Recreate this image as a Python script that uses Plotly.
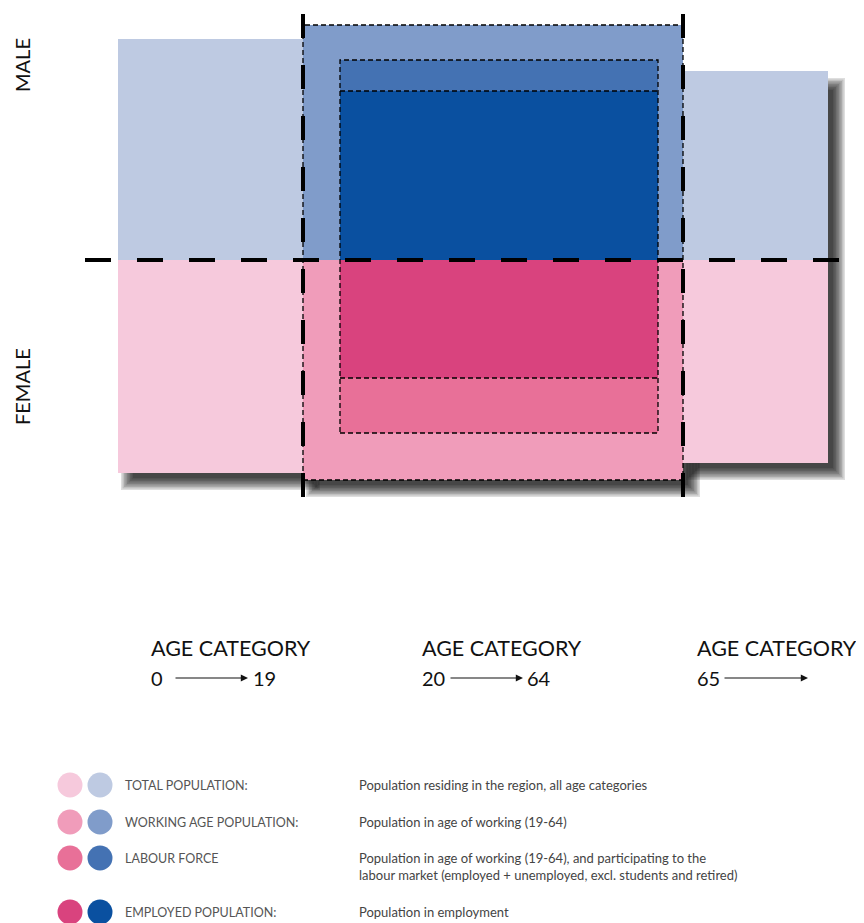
import plotly.graph_objects as go

# ---- data (abstract diagram units) ----
age_groups = ["0-19", "20-64", "65+"]
group_widths = [185, 380, 145]          # width of each age block
male_total = [221, 235, 189]            # height above baseline (male)
female_total = [213, 220, 203]          # depth below baseline (female)
male_labour = 200
male_employed = 169
female_labour = 173
female_employed = 118
labour_inset = [37, 25]                 # inset of labour-force box inside working-age block

age_labels = ["AGE CATEGORY", "AGE CATEGORY", "AGE CATEGORY"]
age_from = ["0", "20", "65"]
age_to = ["19", "64", ""]

legend_names = ["TOTAL POPULATION:", "WORKING AGE POPULATION:", "LABOUR FORCE", "EMPLOYED POPULATION:"]
legend_desc = [
    "Population residing in the region, all age categories",
    "Population in age of working (19-64)",
    "Population in age of working (19-64), and participating to the<br>labour market (employed + unemployed, excl. students and retired)",
    "Population in employment",
]
female_colors = ["#F6C9DC", "#F09CBA", "#E87098", "#D9437E"]
male_colors = ["#BECAE2", "#809CCA", "#4472B3", "#0A50A0"]

W, H = 864, 923
OFF = 8        # page body margin
BASE_PY = 260  # pixel row of baseline
X0 = 118


def Y(py):
    return BASE_PY - py


xs = [X0]
for w in group_widths:
    xs.append(xs[-1] + w)

fig = go.Figure()
shapes = []

# ---- soft shadow ----
dx, dy = 10, 10
shadow_rects = [
    (xs[0], xs[1], 0, -female_total[0]),
    (xs[1], xs[2], 0, -female_total[1]),
    (xs[2], xs[3], male_total[2] - 4, -female_total[2]),
]
N = 9
for i in range(N):
    e = 7 - i * 1.5
    for (a, b, top, bot) in shadow_rects:
        shapes.append(dict(type="rect", x0=a + dx - e, x1=b + dx + e,
                           y0=bot - dy - e, y1=(top - dy + e) if top > 0 else top,
                           line=dict(width=0), fillcolor="rgba(0,0,0,0.13)", layer="below"))

# ---- total population blocks ----
for k in range(3):
    shapes.append(dict(type="rect", x0=xs[k], x1=xs[k + 1], y0=0, y1=male_total[k],
                       line=dict(width=0), fillcolor=male_colors[0] if k != 1 else male_colors[1]))
    shapes.append(dict(type="rect", x0=xs[k], x1=xs[k + 1], y0=-female_total[k], y1=0,
                       line=dict(width=0), fillcolor=female_colors[0] if k != 1 else female_colors[1]))

lx0 = xs[1] + labour_inset[0]
lx1 = xs[2] - labour_inset[1]
# labour force
shapes.append(dict(type="rect", x0=lx0, x1=lx1, y0=0, y1=male_labour, line=dict(width=0), fillcolor=male_colors[2]))
shapes.append(dict(type="rect", x0=lx0, x1=lx1, y0=-female_labour, y1=0, line=dict(width=0), fillcolor=female_colors[2]))
# employed
shapes.append(dict(type="rect", x0=lx0, x1=lx1, y0=0, y1=male_employed, line=dict(width=0), fillcolor=male_colors[3]))
shapes.append(dict(type="rect", x0=lx0, x1=lx1, y0=-female_employed, y1=0, line=dict(width=0), fillcolor=female_colors[3]))

thin = dict(color="black", width=1.3, dash="5px,3px")
# working-age outline
shapes.append(dict(type="rect", x0=xs[1], x1=xs[2], y0=-female_total[1], y1=male_total[1], line=thin))
# labour outline
shapes.append(dict(type="rect", x0=lx0, x1=lx1, y0=-female_labour, y1=male_labour, line=thin))
# employed lines
shapes.append(dict(type="line", x0=lx0, x1=lx1, y0=male_employed, y1=male_employed, line=thin))
shapes.append(dict(type="line", x0=lx0, x1=lx1, y0=-female_employed, y1=-female_employed, line=thin))

# thick dashed axes
thick = dict(color="black", width=4, dash="24px,27px")
shapes.append(dict(type="line", x0=85, x1=841, y0=0, y1=0, line=dict(color="black", width=4, dash="26px,26px")))
for xv in (xs[1], xs[2]):
    shapes.append(dict(type="line", x0=xv, x1=xv, y0=Y(14), y1=Y(505), line=thick))

annotations = []
font_main = "Lato, 'Open Sans', sans-serif"
annotations.append(dict(x=22, y=Y(65), text="MALE", textangle=-90, showarrow=False,
                        font=dict(family=font_main, size=20, color="#111")))
annotations.append(dict(x=22, y=Y(387), text="FEMALE", textangle=-90, showarrow=False,
                        font=dict(family=font_main, size=20, color="#111")))

# age category labels
lab_x = [149, 420, 695]
arrow_x = [(174, 248), (449, 523), (723, 808)]
to_x = [251, 525, None]
for k in range(3):
    annotations.append(dict(x=lab_x[k], y=Y(648), text=age_labels[k], showarrow=False, xanchor="left",
                            font=dict(family=font_main, size=21.5, color="#111")))
    annotations.append(dict(x=lab_x[k], y=Y(678), text=age_from[k], showarrow=False, xanchor="left",
                            font=dict(family=font_main, size=20, color="#111")))
    if age_to[k]:
        annotations.append(dict(x=to_x[k], y=Y(678), text=age_to[k], showarrow=False, xanchor="left",
                                font=dict(family=font_main, size=20, color="#111")))
    a, b = arrow_x[k]
    annotations.append(dict(x=b, y=Y(678), ax=a, ay=Y(678), axref="x", ayref="y", xref="x", yref="y",
                            text="", showarrow=True, arrowhead=2, arrowsize=1.2, arrowwidth=1.2, arrowcolor="#111"))

# legend
leg_py = [785, 822, 858, 912]
for i in range(4):
    fig.add_trace(go.Scatter(x=[70, 100], y=[Y(leg_py[i])] * 2, mode="markers",
                             marker=dict(size=25, color=[female_colors[i], male_colors[i]], line=dict(width=0)),
                             showlegend=False, hoverinfo="skip"))
    annotations.append(dict(x=123, y=Y(leg_py[i]), text=legend_names[i], showarrow=False, xanchor="left",
                            font=dict(family=font_main, size=12.5, color="#555")))
desc_py = [785, 822, 866, 912]
for i in range(4):
    annotations.append(dict(x=357, y=Y(desc_py[i]), text=legend_desc[i], showarrow=False, xanchor="left",
                            align="left", font=dict(family=font_main, size=13, color="#444")))

fig.update_layout(
    width=W - OFF, height=H - OFF, margin=dict(l=0, r=0, t=0, b=0),
    paper_bgcolor="white", plot_bgcolor="white",
    xaxis=dict(range=[OFF, W], visible=False, fixedrange=True),
    yaxis=dict(range=[Y(H), Y(OFF)], visible=False, fixedrange=True),
    shapes=shapes, annotations=annotations, showlegend=False,
)
fig.write_html("out.html")
